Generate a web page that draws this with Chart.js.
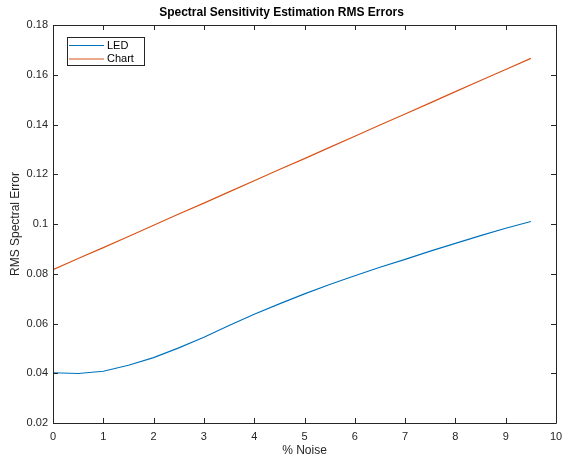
<!DOCTYPE html>
<html lang="en">
<head>
    <meta charset="UTF-8">
    <title>Spectral Sensitivity Estimation RMS Errors</title>
    <script src="https://cdn.jsdelivr.net/npm/chart.js"></script>
    <style>
        body {
            margin: 0;
            background: white;
        }

        #chart {
            display: block;
        }
    </style>
</head>
<body>
    <canvas id="chart" width="563" height="460"></canvas>

    <script>
        // % noise levels
        const noise = [0, 0.5, 1, 1.5, 2, 2.5, 3, 3.5, 4, 4.5, 5, 5.5, 6, 6.5, 7, 7.5, 8, 8.5, 9, 9.5];
        const ledErr = [0.0402, 0.0399, 0.0408, 0.0432, 0.0463, 0.0502, 0.0545, 0.0592, 0.0637, 0.0679,
                        0.0719, 0.0757, 0.0792, 0.0826, 0.0858, 0.0891, 0.0922, 0.0953, 0.0983, 0.1010];
        const chartErr = [0.0816, 0.0861, 0.0905, 0.0950, 0.0995, 0.1040, 0.1084, 0.1129, 0.1174, 0.1219,
                          0.1263, 0.1308, 0.1353, 0.1398, 0.1442, 0.1487, 0.1532, 0.1577, 0.1621, 0.1666];
        const xTicks = [0, 1, 2, 3, 4, 5, 6, 7, 8, 9, 10];
        const yTicks = [0.02, 0.04, 0.06, 0.08, 0.1, 0.12, 0.14, 0.16, 0.18];

        const FONT = "'Liberation Sans', Arial, sans-serif";
        const AXIS = '#262626';

        // matlab style box with inward ticks on all sides
        const boxPlugin = {
            id: 'box',
            afterDraw(chart) {
                const { ctx, chartArea: a, scales } = chart;
                ctx.save();
                ctx.strokeStyle = AXIS;
                ctx.lineWidth = 1;
                ctx.beginPath();
                ctx.rect(a.left + 0.5, a.top + 0.5, a.right - a.left, a.bottom - a.top);
                const len = 5;
                xTicks.forEach(v => {
                    const x = Math.round(scales.x.getPixelForValue(v)) + 0.5;
                    ctx.moveTo(x, a.bottom); ctx.lineTo(x, a.bottom - len);
                    ctx.moveTo(x, a.top); ctx.lineTo(x, a.top + len);
                });
                yTicks.forEach(v => {
                    const y = Math.round(scales.y.getPixelForValue(v)) + 0.5;
                    ctx.moveTo(a.left, y); ctx.lineTo(a.left + len, y);
                    ctx.moveTo(a.right, y); ctx.lineTo(a.right - len, y);
                });
                ctx.stroke();

                // legend
                const lx = a.left + 14, ly = a.top + 12;
                ctx.fillStyle = 'white';
                ctx.fillRect(lx, ly, 77, 28);
                ctx.strokeStyle = AXIS;
                ctx.strokeRect(lx + 0.5, ly + 0.5, 77, 28);
                ctx.font = '11px ' + FONT;
                ctx.textBaseline = 'middle';
                chart.data.datasets.forEach((ds, i) => {
                    const y = ly + 8.5 + i * 13.5;
                    ctx.strokeStyle = ds.borderColor;
                    ctx.lineWidth = 1.2;
                    ctx.beginPath();
                    ctx.moveTo(lx + 2, y);
                    ctx.lineTo(lx + 37, y);
                    ctx.stroke();
                    ctx.fillStyle = 'black';
                    ctx.fillText(ds.label, lx + 40, y);
                });
                ctx.restore();
            }
        };

        const ctx = document.getElementById('chart').getContext('2d');
        new Chart(ctx, {
            type: 'line',
            data: {
                labels: noise,
                datasets: [{
                    label: 'LED',
                    data: noise.map((x, i) => ({ x, y: ledErr[i] })),
                    borderColor: '#0072BD',
                    borderWidth: 1.2,
                    pointRadius: 0,
                    tension: 0,
                    fill: false
                }, {
                    label: 'Chart',
                    data: noise.map((x, i) => ({ x, y: chartErr[i] })),
                    borderColor: '#D95319',
                    borderWidth: 1.2,
                    pointRadius: 0,
                    tension: 0,
                    fill: false
                }]
            },
            options: {
                responsive: false,
                animation: false,
                layout: { padding: { left: 0, right: 0, top: 0, bottom: 0 } },
                plugins: {
                    legend: { display: false },
                    tooltip: { enabled: false },
                    title: {
                        display: true,
                        text: 'Spectral Sensitivity Estimation RMS Errors',
                        color: 'black',
                        font: { family: FONT, size: 12, weight: 'bold' },
                        padding: { top: 5, bottom: 5.6 }
                    }
                },
                scales: {
                    x: {
                        type: 'linear',
                        min: 0,
                        max: 10,
                        afterBuildTicks: s => { s.ticks = xTicks.map(v => ({ value: v })); },
                        afterFit: s => { s.height = 37; s.paddingRight = 7; },
                        grid: { display: false, drawTicks: false },
                        border: { display: false },
                        ticks: {
                            color: AXIS,
                            padding: 7,
                            maxRotation: 0,
                            font: { family: FONT, size: 11 }
                        },
                        title: {
                            display: true,
                            text: '% Noise',
                            color: AXIS,
                            padding: { top: 0, bottom: 2 },
                            font: { family: FONT, size: 12 }
                        }
                    },
                    y: {
                        type: 'linear',
                        min: 0.02,
                        max: 0.18,
                        afterBuildTicks: s => { s.ticks = yTicks.map(v => ({ value: v })); },
                        afterFit: s => { s.width = 53; },
                        grid: { display: false, drawTicks: false },
                        border: { display: false },
                        ticks: {
                            color: AXIS,
                            padding: 5,
                            font: { family: FONT, size: 11 },
                            callback: v => String(Number(v.toFixed(2)))
                        },
                        title: {
                            display: true,
                            text: 'RMS Spectral Error',
                            color: AXIS,
                            padding: { top: 8, bottom: 0 },
                            font: { family: FONT, size: 12 }
                        }
                    }
                }
            },
            plugins: [boxPlugin]
        });
    </script>
</body>
</html>
